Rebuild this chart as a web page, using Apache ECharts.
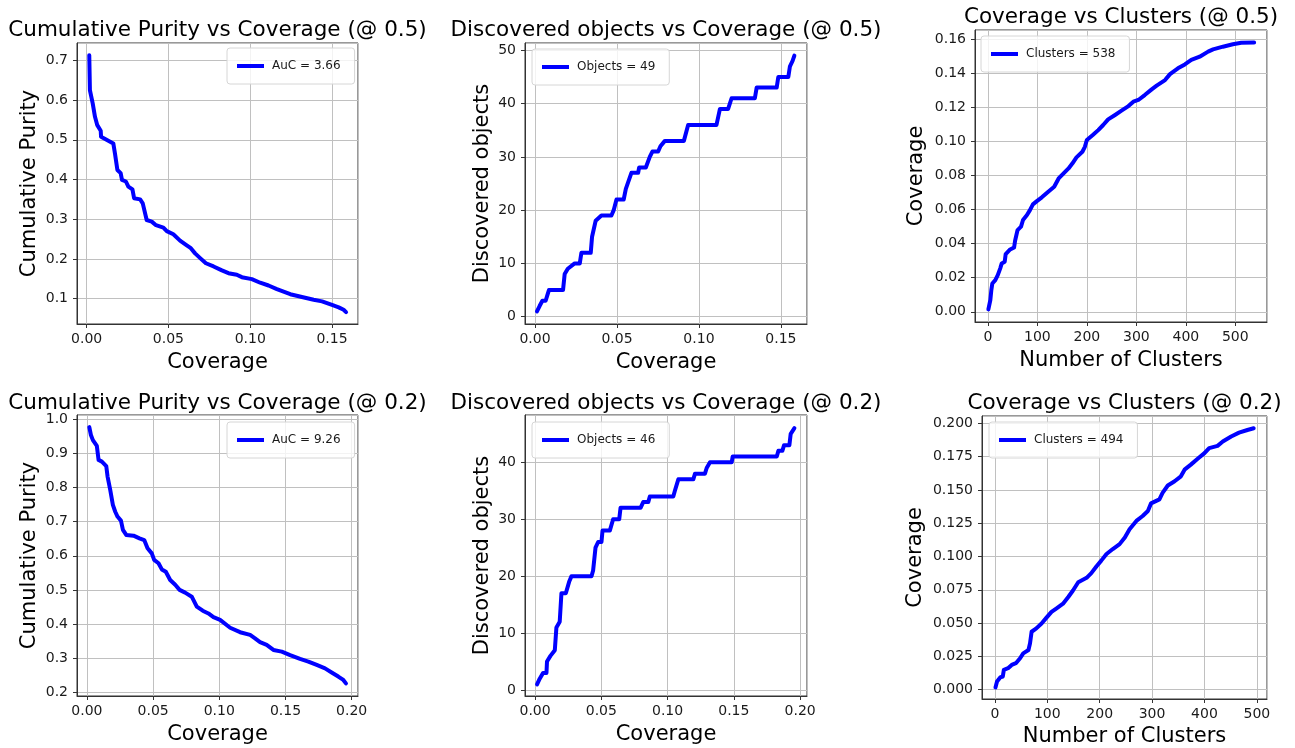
<!DOCTYPE html>
<html lang="en">
<head>
    <meta charset="UTF-8">
    <title>Purity / Coverage</title>
    <script src="https://cdn.jsdelivr.net/npm/echarts@6.0.0/dist/echarts.min.js"></script>
    <style>
        html, body { margin: 0; padding: 0; background: #fff; }
        #main { width: 1295px; height: 748px; }
    </style>
</head>
<body>
<div id="main"></div>
<script type="text/javascript">
    // data: [coverage, purity], [coverage, objects], [clusters, coverage]
    var purity05 = [[0.0016,0.713],[0.002,0.625],[0.0037,0.592],[0.0051,0.558],[0.0065,0.537],[0.0086,0.523],[0.0088,0.508],
        [0.0163,0.491],[0.0173,0.466],[0.0188,0.424],[0.0208,0.416],[0.0216,0.399],[0.024,0.395],[0.0255,0.382],[0.028,0.375],
        [0.029,0.353],[0.0327,0.350],[0.0343,0.340],[0.0367,0.298],[0.0398,0.294],[0.0424,0.285],[0.0469,0.279],[0.049,0.270],
        [0.053,0.262],[0.0571,0.246],[0.0612,0.234],[0.0637,0.227],[0.0663,0.214],[0.0694,0.202],[0.0729,0.189],[0.0776,0.181],
        [0.0827,0.171],[0.0867,0.164],[0.0918,0.160],[0.0949,0.154],[0.101,0.149],[0.1061,0.140],[0.1112,0.133],[0.1163,0.124],
        [0.1245,0.111],[0.1316,0.104],[0.1388,0.097],[0.1439,0.093],[0.15,0.084],[0.1541,0.078],[0.1571,0.072],[0.1586,0.066]];

    var objects05 = [[0.0012,1],[0.0028,2],[0.0045,3],[0.0065,3],[0.0075,4],[0.0085,5],[0.0171,5],[0.0181,8],[0.0200,9],
        [0.0242,10],[0.0273,10],[0.0283,12],[0.0340,12],[0.0348,15],[0.0370,18],[0.0405,19],[0.0466,19],[0.0480,20],[0.0497,22],
        [0.0541,22],[0.0554,24],[0.0588,27],[0.0629,27],[0.0635,28],[0.0676,28],[0.0700,30],[0.0716,31],[0.0751,31],[0.0765,32],
        [0.0792,33],[0.0908,33],[0.0934,36],[0.1107,36],[0.1128,39],[0.1178,39],[0.1199,41],[0.1341,41],[0.1352,43],[0.1474,43],
        [0.1484,45],[0.1545,45],[0.1555,47],[0.1571,48],[0.1582,49]];

    var clusters05 = [[1,0.0014],[5,0.0069],[7,0.0127],[9,0.0166],[15,0.0186],[20,0.0215],[25,0.0255],[28,0.0284],[34,0.0294],
        [36,0.0339],[45,0.0366],[53,0.0378],[55,0.0417],[60,0.048],[67,0.05],[71,0.0539],[79,0.0568],[85,0.0597],[91,0.0631],
        [99,0.065],[109,0.0672],[122,0.0705],[134,0.0734],[143,0.0783],[153,0.0813],[163,0.0842],[171,0.0872],[179,0.0907],
        [191,0.094],[196,0.0969],[200,0.1009],[212,0.1038],[223,0.1067],[233,0.1097],[243,0.113],[257,0.1156],[270,0.1181],
        [284,0.1208],[294,0.1234],[304,0.1244],[317,0.1273],[331,0.1306],[341,0.1328],[358,0.1361],[368,0.1396],[384,0.143],
        [398,0.1453],[411,0.1479],[428,0.1498],[445,0.1528],[455,0.1541],[475,0.1557],[495,0.1571],[512,0.158],[538,0.1582]];

    var purity02 = [[0.0018,0.977],[0.003,0.954],[0.0045,0.939],[0.0075,0.922],[0.0088,0.881],[0.0113,0.876],[0.0146,0.863],
        [0.0156,0.832],[0.0176,0.793],[0.0196,0.749],[0.0214,0.729],[0.0231,0.715],[0.0257,0.703],[0.0272,0.676],[0.0297,0.661],
        [0.0352,0.659],[0.0397,0.651],[0.0433,0.646],[0.0458,0.622],[0.049,0.607],[0.0508,0.588],[0.0541,0.578],[0.0566,0.560],
        [0.0596,0.553],[0.0629,0.529],[0.0667,0.515],[0.07,0.500],[0.0742,0.492],[0.0792,0.480],[0.083,0.451],[0.0875,0.439],
        [0.0918,0.431],[0.0956,0.420],[0.1006,0.412],[0.1082,0.389],[0.1157,0.376],[0.1233,0.368],[0.127,0.358],[0.1308,0.347],
        [0.1358,0.339],[0.1409,0.324],[0.1472,0.319],[0.1535,0.309],[0.161,0.298],[0.1673,0.290],[0.1736,0.280],[0.1799,0.270],
        [0.1849,0.258],[0.1899,0.246],[0.1937,0.236],[0.1957,0.226]];

    var objects02 = [[0.0015,1],[0.0035,2],[0.006,3],[0.0086,3],[0.009,5],[0.0116,6],[0.0149,7],[0.0161,11],[0.0186,12],
        [0.0199,17],[0.0232,17],[0.0257,19],[0.0275,20],[0.0426,20],[0.0438,21],[0.0456,25],[0.0476,26],[0.0501,26],[0.0509,28],
        [0.0564,28],[0.0589,30],[0.0635,30],[0.0645,32],[0.0796,32],[0.0816,33],[0.0854,33],[0.0866,34],[0.1043,34],[0.1055,35],
        [0.1081,37],[0.1194,37],[0.1207,38],[0.1282,38],[0.1295,39],[0.132,40],[0.1484,40],[0.1491,41],[0.1824,41],[0.1836,42],
        [0.1866,42],[0.1879,43],[0.1919,43],[0.1929,45],[0.1957,46]];

    var clusters02 = [[1,0.0017],[4,0.0062],[10,0.0092],[15,0.0099],[17,0.0149],[25,0.0161],[32,0.0186],[40,0.0199],[48,0.0236],
        [54,0.0273],[64,0.0298],[67,0.0348],[70,0.0435],[79,0.046],[89,0.0497],[98,0.0539],[108,0.0584],[117,0.0609],[130,0.0646],
        [140,0.0696],[149,0.0745],[159,0.0807],[175,0.084],[184,0.0875],[194,0.0927],[203,0.0969],[213,0.1019],[225,0.1056],
        [238,0.1093],[248,0.1143],[257,0.1205],[270,0.1267],[282,0.1304],[292,0.1342],[298,0.1399],[314,0.1429],[320,0.1478],
        [330,0.1533],[343,0.1565],[355,0.1602],[362,0.1652],[374,0.169],[387,0.1734],[400,0.1776],[409,0.1814],[425,0.1831],
        [435,0.1863],[451,0.1901],[466,0.193],[482,0.195],[494,0.1963]];

    var titles = ['Cumulative Purity vs Coverage (@ 0.5)', 'Discovered objects vs Coverage (@ 0.5)', 'Coverage vs Clusters (@ 0.5)',
        'Cumulative Purity vs Coverage (@ 0.2)', 'Discovered objects vs Coverage (@ 0.2)', 'Coverage vs Clusters (@ 0.2)'];
    var legendNames = ['AuC = 3.66', 'Objects = 49', 'Clusters = 538', 'AuC = 9.26', 'Objects = 46', 'Clusters = 494'];
    var xNames = ['Coverage', 'Coverage', 'Number of Clusters', 'Coverage', 'Coverage', 'Number of Clusters'];
    var yNames = ['Cumulative Purity', 'Discovered objects', 'Coverage', 'Cumulative Purity', 'Discovered objects', 'Coverage'];
    var seriesData = [purity05, objects05, clusters05, purity02, objects02, clusters02];

    // layout of each panel (pixels) and axis ranges [min, max, step, decimals]
    var panels = [
        { left: 77, top: 43, width: 281, height: 281, titleTop: 19, yGap: 37, xGap: 28,
          x: [-0.0059, 0.1659, 0.05, 2], y: [0.036, 0.744, 0.1, 1], legend: [227, 48] },
        { left: 525, top: 43, width: 282, height: 281, titleTop: 19, yGap: 32, xGap: 28,
          x: [-0.0061, 0.1659, 0.05, 2], y: [-1.37, 51.37, 10, 0], legend: [532, 49] },
        { left: 975, top: 30, width: 292, height: 292, titleTop: 6, yGap: 48, xGap: 28,
          x: [-26, 564, 100, 0], y: [-0.006, 0.1655, 0.02, 2], legend: [981, 36] },
        { left: 77, top: 415, width: 281, height: 281, titleTop: 392, yGap: 37, xGap: 28,
          x: [-0.0075, 0.2048, 0.05, 2], y: [0.189, 1.0126, 0.1, 1], legend: [227, 422] },
        { left: 525, top: 415, width: 282, height: 281, titleTop: 392, yGap: 32, xGap: 28,
          x: [-0.0076, 0.2052, 0.05, 2], y: [-1.05, 48.3, 10, 0], legend: [532, 422] },
        { left: 982, top: 416, width: 285, height: 285, titleTop: 392, yGap: 56, xGap: 27,
          x: [-24.7, 519.4, 100, 0], y: [-0.007, 0.2055, 0.025, 3], legend: [989, 422] }
    ];

    var font = 'DejaVu Sans';
    var frame = '#333';
    var gridLine = '#c0c0c0';

    function axis(idx, r, name, gap, isY) {
        return {
            type: 'value', gridIndex: idx,
            min: r[0], max: r[1], minInterval: r[2], maxInterval: r[2],
            name: name, nameLocation: 'middle', nameGap: gap, nameRotate: isY ? 90 : 0,
            nameTextStyle: { fontFamily: font, fontSize: 21, color: '#000' },
            axisLine: { show: true, onZero: false, lineStyle: { color: frame, width: 1 } },
            axisTick: { show: true, length: 4, lineStyle: { color: frame } },
            axisLabel: {
                showMinLabel: false, showMaxLabel: false, margin: isY ? 9 : 8,
                fontFamily: font, fontSize: 14, color: '#1a1a1a',
                formatter: function (v) { return v.toFixed(r[3]); }
            },
            splitLine: { show: true, lineStyle: { color: gridLine, width: 1 } }
        };
    }

    var option = { animation: false, backgroundColor: '#fff', title: [], grid: [], xAxis: [], yAxis: [], legend: [], series: [] };

    panels.forEach(function (p, i) {
        option.grid.push({ left: p.left, top: p.top, width: p.width, height: p.height,
            show: true, borderColor: frame, borderWidth: 1, backgroundColor: 'transparent' });
        option.title.push({ text: titles[i], left: p.left + p.width / 2, top: p.titleTop, textAlign: 'center', padding: 0,
            textStyle: { fontFamily: font, fontSize: 21.5, fontWeight: 'normal', color: '#000' } });
        option.xAxis.push(axis(i, p.x, xNames[i], p.xGap, false));
        option.yAxis.push(axis(i, p.y, yNames[i], p.yGap, true));
        option.legend.push({
            data: [legendNames[i]], left: p.legend[0], top: p.legend[1],
            icon: 'rect', itemWidth: 27, itemHeight: 4,
            padding: [12, 14, 12, 10], borderColor: '#d6d6d6', borderWidth: 1, borderRadius: 3,
            backgroundColor: 'rgba(255,255,255,0.8)',
            textStyle: { fontFamily: font, fontSize: 12, color: '#1a1a1a', padding: [0, 0, 0, 3] }
        });
        option.series.push({
            name: legendNames[i], type: 'line', xAxisIndex: i, yAxisIndex: i,
            data: seriesData[i], showSymbol: false, symbol: 'none',
            itemStyle: { color: '#0000ff' },
            lineStyle: { color: '#0000ff', width: 4, join: 'round', cap: 'round' }
        });
    });

    var chart = echarts.init(document.getElementById('main'));
    chart.setOption(option);
</script>
</body>
</html>
